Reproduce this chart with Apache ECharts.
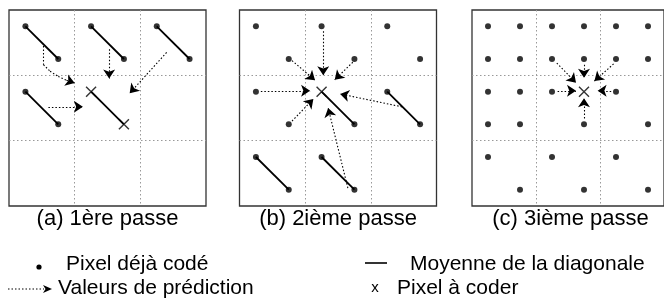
<!DOCTYPE html>
<html>
<head>
<meta charset="utf-8">
<script src="https://cdn.jsdelivr.net/npm/echarts@6/dist/echarts.min.js"></script>
<style>
html, body { margin: 0; padding: 0; background: #fff; }
#chart { width: 664px; height: 300px; }
</style>
</head>
<body>
<div id="chart"></div>
<script>
var titles = ['(a) 1ère passe', '(b) 2ième passe', '(c) 3ième passe'];
var legendNames = ['Pixel déjà codé', 'Valeurs de prédiction', 'Moyenne de la diagonale', 'Pixel à coder'];

// grid units: each panel is 12 x 12, pixels sit on odd values, y grows downwards
// pass 1
var dotsA = [[1,1],[3,3],[5,1],[7,3],[9,1],[11,3],[1,5],[3,7]];
var meansA = [[[1,1],[3,3]], [[5,1],[7,3]], [[9,1],[11,3]], [[1,5],[3,7]], [[5,5],[7,7]]];
var targetsA = [[5,5],[7,7]];
var arrowsA = [
    [[2.1,2.2],[2.1,3.35],[2.5,3.75],[3,4.07],[3.5,4.3],[4,4.47]],
    [[6.1,2.4],[6.1,4.2]],
    [[9.6,2.6],[7.35,5.1]],
    [[2.4,5.93],[4.5,5.93]]
];

// pass 2
var dotsB = [[1,1],[5,1],[9,1],[3,3],[7,3],[11,3],[1,5],[3,7],[7,7],[9,5],[11,7],[1,9],[3,11],[5,9],[7,11]];
var meansB = [[[5,5],[7,7]], [[9,5],[11,7]], [[1,9],[3,11]], [[5,9],[7,11]]];
var targetsB = [[5,5]];
var arrowsB = [
    [[3.2,3.1],[4.6,4.3]],
    [[5.1,1.3],[5.1,4.0]],
    [[6.9,3.2],[5.8,4.27]],
    [[1.3,4.95],[4.3,4.95]],
    [[3.2,6.8],[4.5,5.45]],
    [[9.9,5.93],[6.13,5.14]],
    [[6.6,10.9],[5.4,6.0]]
];

// pass 3
var dotsC = [
    [1,1],[3,1],[5,1],[7,1],[9,1],[11,1],
    [1,3],[3,3],[5,3],[7,3],[9,3],[11,3],
    [1,5],[3,5],[5,5],[9,5],
    [1,7],[3,7],[7,7],[11,7],
    [1,9],[5,9],[9,9],
    [3,11],[7,11],[11,11]
];
var meansC = [];
var targetsC = [[7,5]];
var arrowsC = [
    [[5.3,3.25],[6.5,4.45]],
    [[7,3.35],[7,4.15]],
    [[8.85,3.3],[7.65,4.35]],
    [[5.35,4.95],[6.5,4.95]],
    [[8.7,4.95],[7.85,4.95]],
    [[7,6.65],[7,5.4]]
];

var passes = [
    {dots: dotsA, means: meansA, targets: targetsA, arrows: arrowsA},
    {dots: dotsB, means: meansB, targets: targetsB, arrows: arrowsB},
    {dots: dotsC, means: meansC, targets: targetsC, arrows: arrowsC}
];

var panelLeft = [9, 239.5, 472];
var panelSize = 197;
var font = '"Liberation Sans", Arial, sans-serif';
var crossPath = 'path://M0,0L10,10M10,0L0,10';

var dom = document.getElementById('chart');
var myChart = echarts.init(dom, null, {renderer: 'canvas'});

var grids = [], xAxes = [], yAxes = [], series = [], titleList = [];
var dotted = {color: '#000', width: 1.1, type: [1.5, 2], opacity: 1};

passes.forEach(function (p, i) {
    grids.push({
        left: panelLeft[i], top: 10, width: panelSize, height: 196,
        show: true, borderColor: '#333', borderWidth: 1.3, backgroundColor: 'transparent'
    });
    var axis = {
        gridIndex: i, type: 'value', min: 0, max: 12, interval: 4,
        axisLabel: {show: false}, axisTick: {show: false}, axisLine: {show: false},
        splitLine: {show: true, showMinLine: false, showMaxLine: false,
            lineStyle: {color: '#999', width: 1, type: [1.5, 2.5]}}
    };
    xAxes.push(axis);
    yAxes.push(Object.assign({}, axis, {inverse: true}));

    // split each arrow: plain dotted body, last segment carries the arrow head
    var bodies = [], heads = [];
    p.arrows.forEach(function (a) {
        for (var k = 0; k < a.length - 2; k++) bodies.push({coords: [a[k], a[k + 1]]});
        heads.push({coords: [a[a.length - 2], a[a.length - 1]]});
    });

    series.push({
        name: legendNames[2], type: 'lines', coordinateSystem: 'cartesian2d',
        xAxisIndex: i, yAxisIndex: i, silent: true, symbol: 'none',
        lineStyle: {color: '#000', width: 1.8, opacity: 1},
        data: p.means.map(function (m) { return {coords: m}; })
    });
    series.push({
        name: legendNames[1], type: 'lines', coordinateSystem: 'cartesian2d',
        xAxisIndex: i, yAxisIndex: i, silent: true, symbol: 'none',
        lineStyle: dotted, data: bodies
    });
    series.push({
        name: legendNames[1], type: 'lines', coordinateSystem: 'cartesian2d',
        xAxisIndex: i, yAxisIndex: i, silent: true,
        symbol: ['none', 'arrow'], symbolSize: [7, 9],
        lineStyle: dotted, data: heads
    });
    series.push({
        name: legendNames[0], type: 'scatter', xAxisIndex: i, yAxisIndex: i, silent: true,
        symbolSize: 6, itemStyle: {color: '#000'}, data: p.dots
    });
    series.push({
        name: legendNames[3], type: 'scatter', xAxisIndex: i, yAxisIndex: i, silent: true,
        symbol: crossPath, symbolSize: 10,
        itemStyle: {color: 'transparent', borderColor: '#000', borderWidth: 1.4},
        data: p.targets
    });

    titleList.push({
        text: titles[i], left: panelLeft[i] + panelSize / 2, top: 208, textAlign: 'center', padding: 0,
        textStyle: {fontSize: 22, fontWeight: 'normal', color: '#000', fontFamily: font}
    });
});

function legendText(x, y, str) {
    return {type: 'text', x: x, y: y, silent: true,
        style: {text: str, fill: '#000', font: '21px ' + font, verticalAlign: 'middle'}};
}

var option = {
    animation: false,
    backgroundColor: '#fff',
    title: titleList,
    grid: grids,
    xAxis: xAxes,
    yAxis: yAxes,
    series: series,
    graphic: [
        {type: 'circle', shape: {cx: 39, cy: 267, r: 2.6}, style: {fill: '#000'}, silent: true},
        legendText(66, 264, legendNames[0]),
        {type: 'line', shape: {x1: 8, y1: 289, x2: 44, y2: 289}, silent: true,
            style: {stroke: '#000', lineWidth: 1.1, lineDash: [1.5, 2]}},
        {type: 'polygon', shape: {points: [[52, 289], [43, 285], [45.5, 289], [43, 293]]},
            style: {fill: '#000'}, silent: true},
        legendText(58, 288, legendNames[1]),
        {type: 'line', shape: {x1: 365, y1: 263, x2: 387, y2: 263}, silent: true,
            style: {stroke: '#000', lineWidth: 1.6}},
        legendText(410, 264, legendNames[2]),
        {type: 'text', x: 375, y: 288, silent: true,
            style: {text: 'x', fill: '#000', font: '15px ' + font, align: 'center', verticalAlign: 'middle'}},
        legendText(397, 288, legendNames[3])
    ]
};

if (option && typeof option === 'object') {
    myChart.setOption(option, true);
}
</script>
</body>
</html>
